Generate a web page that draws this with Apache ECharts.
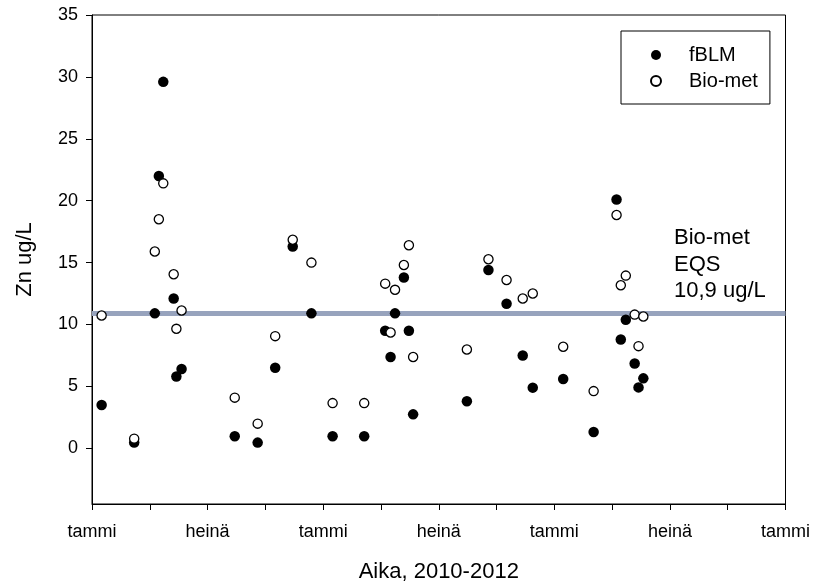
<!DOCTYPE html>
<html>
<head>
<meta charset="utf-8">
<script src="https://cdn.jsdelivr.net/npm/echarts@6/dist/echarts.min.js"></script>
<style>
html,body{margin:0;padding:0;background:#fff;}
#chart{width:813px;height:588px;}
</style>
</head>
<body>
<div id="chart"></div>
<script>
// Months since January 2010 (sampling dates)
var months = [0.50, 2.19, 3.26, 3.47, 3.70, 4.24, 4.38, 4.65, 7.41, 8.60, 9.51, 10.42, 11.39, 12.49, 14.13, 15.22, 15.50, 15.73, 16.19, 16.45, 16.67, 19.46, 20.58, 21.52, 22.36, 22.88, 24.46, 26.04, 27.23, 27.45, 27.71, 28.17, 28.37, 28.62];
var fBLM = [3.5, 0.46, 10.9, 22.0, 29.6, 12.1, 5.8, 6.4, 0.97, 0.46, 6.5, 16.3, 10.9, 0.97, 0.97, 9.5, 7.37, 10.9, 13.8, 9.5, 2.74, 3.8, 14.4, 11.67, 7.5, 4.9, 5.6, 1.31, 20.1, 8.79, 10.38, 6.85, 4.92, 5.65];
var bioMet = [10.73, 0.78, 15.9, 18.5, 21.4, 14.06, 9.65, 11.13, 4.09, 1.99, 9.06, 16.85, 15.0, 3.65, 3.65, 13.3, 9.35, 12.8, 14.8, 16.4, 7.37, 7.98, 15.27, 13.6, 12.1, 12.5, 8.2, 4.62, 18.85, 13.17, 13.95, 10.8, 8.25, 10.65];
var seriesNames = ['fBLM', 'Bio-met'];
var monthLabels = {0: 'tammi', 6: 'heinä'};
var yTicks = [0, 5, 10, 15, 20, 25, 30, 35];
var eqsValue = 10.9;
var eqsText = 'Bio-met\nEQS\n10,9 ug/L';
var xTitle = 'Aika, 2010-2012';
var yTitle = 'Zn ug/L';

var FONT = '"Liberation Sans", Arial, sans-serif';

function pairs(xs, ys) {
  return xs.map(function (x, i) { return [x, ys[i]]; });
}

var chart = echarts.init(document.getElementById('chart'), null, {renderer: 'canvas'});
chart.setOption({
  animation: false,
  backgroundColor: '#ffffff',
  textStyle: {fontFamily: FONT, color: '#000'},
  grid: {
    left: 92, right: 24, top: 15, bottom: 84,
    show: true, borderColor: '#000', borderWidth: 1, backgroundColor: 'transparent'
  },
  legend: {
    orient: 'vertical',
    align: 'left',
    left: 621, top: 31,
    padding: [14, 12, 13, 29],
    itemGap: 6,
    itemWidth: 56, itemHeight: 10,
    borderColor: '#000', borderWidth: 1,
    backgroundColor: '#fff',
    icon: 'circle',
    textStyle: {fontFamily: FONT, fontSize: 20, color: '#000', lineHeight: 20},
    data: seriesNames
  },
  xAxis: {
    type: 'value',
    min: 0, max: 36, interval: 3,
    name: xTitle,
    nameLocation: 'middle',
    nameGap: 57,
    nameTextStyle: {fontFamily: FONT, fontSize: 22, color: '#000'},
    axisLine: {show: true, onZero: false, lineStyle: {color: '#000', width: 1}},
    axisTick: {show: true, inside: false, length: 6, lineStyle: {color: '#000', width: 1}},
    axisLabel: {
      show: true, margin: 19, fontFamily: FONT, fontSize: 18, color: '#000',
      formatter: function (v) { var k = Math.round(v) % 12; return monthLabels[k] || ''; }
    },
    splitLine: {show: false}
  },
  yAxis: {
    type: 'value',
    min: -4.5, max: 35,
    name: yTitle,
    nameLocation: 'middle',
    nameGap: 56,
    nameTextStyle: {fontFamily: FONT, fontSize: 22, color: '#000'},
    axisLine: {show: true, onZero: false, lineStyle: {color: '#000', width: 1}},
    axisTick: {show: true, inside: false, length: 6, customValues: yTicks, lineStyle: {color: '#000', width: 1}},
    axisLabel: {show: true, margin: 14, fontFamily: FONT, fontSize: 18, color: '#000', customValues: yTicks},
    splitLine: {show: false}
  },
  graphic: [{
    type: 'text',
    left: 674, top: 225,
    silent: true,
    style: {text: eqsText, font: '22px ' + FONT, fill: '#000', lineHeight: 26.5}
  }],
  series: [
    {
      name: seriesNames[0],
      type: 'scatter',
      symbol: 'circle',
      symbolSize: 10.5,
      itemStyle: {color: '#000', borderColor: '#000', borderWidth: 0, opacity: 1},
      data: pairs(months, fBLM),
      z: 3,
      markLine: {
        silent: true,
        symbol: ['none', 'none'],
        label: {show: false},
        lineStyle: {color: '#97A3BD', width: 5, type: 'solid'},
        data: [{yAxis: eqsValue}],
        z: 2
      }
    },
    {
      name: seriesNames[1],
      type: 'scatter',
      symbol: 'circle',
      symbolSize: 9.2,
      itemStyle: {color: '#fff', borderColor: '#000', borderWidth: 1.3, opacity: 1},
      data: pairs(months, bioMet),
      z: 4
    }
  ]
});
</script>
</body>
</html>
